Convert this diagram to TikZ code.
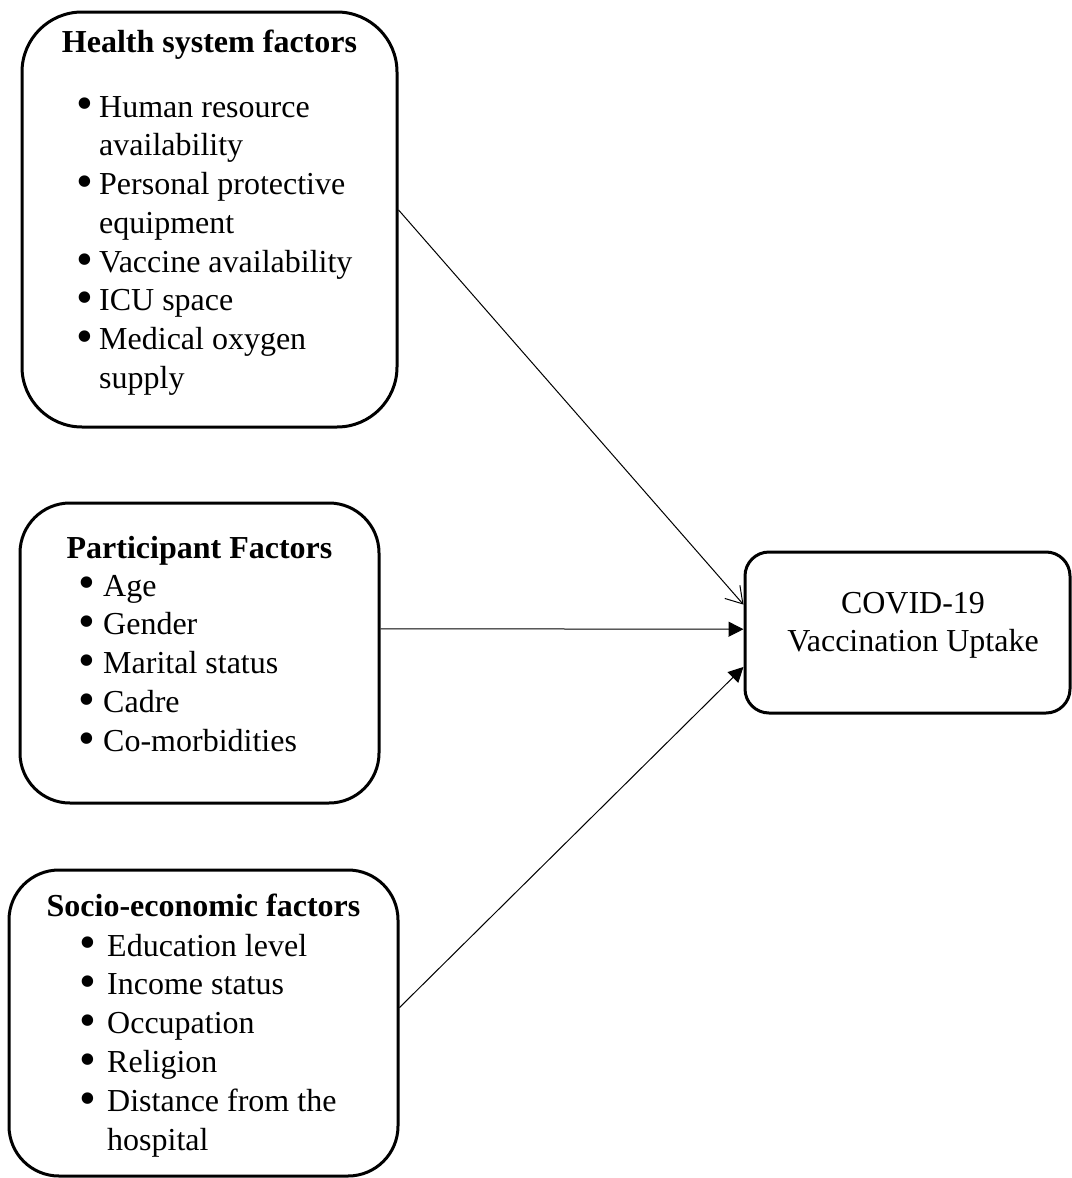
\documentclass[tikz,border=0pt]{standalone}
\usepackage{fontspec}
\setmainfont{Liberation Serif}
\usepackage{tikz}
\usetikzlibrary{arrows.meta,calc,positioning}
\newcommand{\diagfont}{\fontsize{16pt}{19.4pt}\selectfont}
\newcommand{\itembullet}{\raisebox{-0.2ex}{\scalebox{1.5}{\textbullet}}}
\tikzset{factorbox/.style={draw=black, fill=none, line width=1.5pt, rounded corners=#1, inner sep=0pt},
factorbox/.default={25pt},
factortitle/.style={font=\diagfont\bfseries, inner sep=0pt, anchor=base},
factorlist/.style={inner sep=0pt, anchor=base west},
link/.style={line width=0.5pt}}

\begin{document}
\begin{tikzpicture}[x=0.5pt, y=-0.5pt, font=\diagfont, >={Triangle[length=7.5pt,width=7.5pt]}]
\useasboundingbox (0,0) rectangle (1071,1178);

% the factors

    \node[factorbox=30pt, minimum width=187.5pt, minimum height=207.5pt] (health) at (209.5,219.5) {};
    \node[factorbox=25pt, minimum width=179.5pt, minimum height=150pt] (participant) at (199.5,653) {};
    \node[factorbox=25pt, minimum width=194.5pt, minimum height=153pt] (socio) at (203.5,1023) {};

    \node[factortitle] (healthtitle) at (209.5,52) {Health system factors};
    \node[factorlist] (healthlist) at (76,117) {\begin{tabular}[t]{@{}l@{\hspace{3pt}}l@{}}
    \itembullet & Human resource\\ & availability\\
    \itembullet & Personal protective\\ & equipment\\
    \itembullet & Vaccine availability\\
    \itembullet & ICU space\\
    \itembullet & Medical oxygen\\ & supply
    \end{tabular}};

    \node[factortitle] (participanttitle) at (199.5,558) {Participant Factors};
    \node[factorlist] (participantlist) at (78,596) {\begin{tabular}[t]{@{}l@{\hspace{4pt}}l@{}}
    \itembullet & Age\\
    \itembullet & Gender\\
    \itembullet & Marital status\\
    \itembullet & Cadre\\
    \itembullet & Co-morbidities
    \end{tabular}};

    \node[factortitle] (sociotitle) at (203.5,916) {Socio-economic factors};
    \node[factorlist] (sociolist) at (79,956) {\begin{tabular}[t]{@{}l@{\hspace{5.5pt}}l@{}}
    \itembullet & Education level\\
    \itembullet & Income status\\
    \itembullet & Occupation\\
    \itembullet & Religion\\
    \itembullet & Distance from the\\ & hospital
    \end{tabular}};

% the outcome

    \node[factorbox=12pt, minimum width=162.5pt, minimum height=80.5pt] (uptake) at (907.5,632.5) {};
    \node[inner sep=0pt, anchor=base] (uptaketext) at (913,613) {\begin{tabular}[t]{@{}c@{}}
    COVID-19\\ Vaccination Uptake
    \end{tabular}};

    \draw[link, -{Straight Barb[length=8pt,width=10pt]}] ($(health.north east)!0.477!(health.south east)$)
    -- ($(uptake.north west)!0.33!(uptake.south west)$);
    \draw[link, ->] ($(participant.north east)!0.42!(participant.south east)$)
    -- ($(uptake.north west)!0.48!(uptake.south west)$);
    \draw[link, ->] ($(socio.north east)!0.45!(socio.south east)$)
    -- ($(uptake.north west)!0.71!(uptake.south west)$);

\end{tikzpicture}
\end{document}
